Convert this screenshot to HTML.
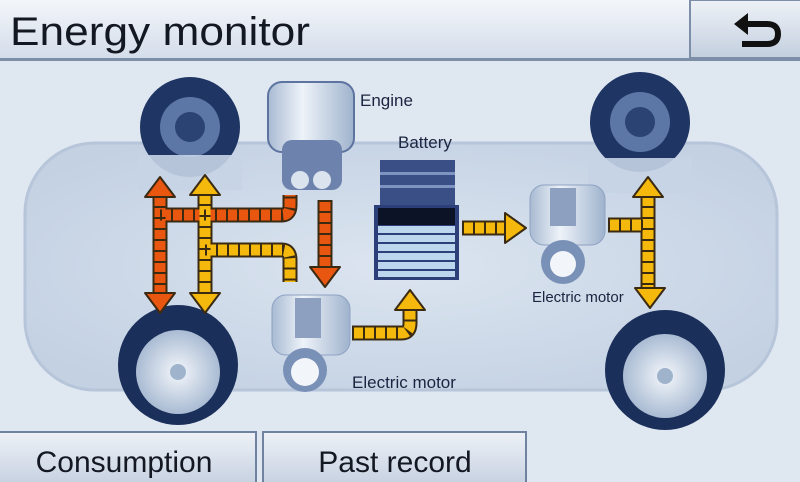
<!DOCTYPE html>
<html><head><style>
html,body{margin:0;padding:0;width:800px;height:482px;overflow:hidden;background:#dfe7f1;}
svg{display:block;font-family:"Liberation Sans",sans-serif;}
</style></head><body>
<svg width="800" height="482" viewBox="0 0 800 482" xmlns="http://www.w3.org/2000/svg">
<defs>
<linearGradient id="hdr" x1="0" y1="0" x2="0" y2="1"><stop offset="0" stop-color="#f3f6fa"/><stop offset="1" stop-color="#d3dcea"/></linearGradient>
<linearGradient id="btn" x1="0" y1="0" x2="0" y2="1"><stop offset="0" stop-color="#eef2f7"/><stop offset="1" stop-color="#c3cfdf"/></linearGradient>
<radialGradient id="car" cx="0.5" cy="0.5" r="0.6"><stop offset="0" stop-color="#dce5f0"/><stop offset="1" stop-color="#c3d1e3"/></radialGradient>
<radialGradient id="rim" cx="0.5" cy="0.5" r="0.5"><stop offset="0" stop-color="#f4f7fb"/><stop offset="1" stop-color="#a9bbd3"/></radialGradient>
<linearGradient id="mot" x1="0" y1="0" x2="1" y2="0"><stop offset="0" stop-color="#a8bad2"/><stop offset="0.4" stop-color="#eef3f9"/><stop offset="1" stop-color="#9fb3cd"/></linearGradient>
</defs>
<rect width="800" height="482" fill="#dfe7f1"/>
<rect x="0" y="0" width="800" height="60" fill="url(#hdr)"/>
<rect x="0" y="58" width="800" height="3" fill="#7d8ea8"/>
<text x="10" y="45" font-size="40" fill="#141822" textLength="300" lengthAdjust="spacingAndGlyphs">Energy monitor</text>
<rect x="690" y="0" width="112" height="58" fill="url(#btn)" stroke="#7d8ea8" stroke-width="2"/>
<path d="M745 24 H767 Q778 24 778 34 Q778 44 767 44 H742" fill="none" stroke="#111" stroke-width="6"/>
<polygon points="734,24 748,13 748,35" fill="#111"/>
<rect x="25" y="143" width="752" height="247" rx="70" fill="url(#car)" stroke="#b6c5d9" stroke-width="3"/>
<g>
<circle cx="190" cy="127" r="50" fill="#1f3563"/><circle cx="190" cy="127" r="30" fill="#5c77a5"/><circle cx="190" cy="127" r="15" fill="#2a4372"/>
<circle cx="640" cy="122" r="50" fill="#1f3563"/><circle cx="640" cy="122" r="30" fill="#5c77a5"/><circle cx="640" cy="122" r="15" fill="#2a4372"/>
<rect x="138" y="155" width="104" height="35" fill="#c7d4e5" opacity="0.9"/>
<rect x="588" y="158" width="104" height="35" fill="#c7d4e5" opacity="0.9"/>
<circle cx="178" cy="365" r="60" fill="#1b2f5b"/><circle cx="178" cy="372" r="42" fill="url(#rim)"/><circle cx="178" cy="372" r="8" fill="#9fb3cd"/>
<circle cx="665" cy="370" r="60" fill="#1b2f5b"/><circle cx="665" cy="376" r="42" fill="url(#rim)"/><circle cx="665" cy="376" r="8" fill="#9fb3cd"/>
</g>
<rect x="268" y="82" width="86" height="70" rx="14" fill="url(#mot)" stroke="#5d73a0" stroke-width="2"/>
<rect x="282" y="140" width="60" height="50" rx="10" fill="#6d83ad"/>
<circle cx="300" cy="180" r="9" fill="#dbe3ee"/><circle cx="322" cy="180" r="9" fill="#dbe3ee"/>
<text x="360" y="106" font-size="17" fill="#1b2440">Engine</text>
<text x="398" y="148" font-size="17" fill="#1b2440">Battery</text>
<rect x="380" y="160" width="75" height="45" fill="#3a4f86"/>
<rect x="380" y="172" width="75" height="3" fill="#7e93c2"/><rect x="380" y="185" width="75" height="3" fill="#7e93c2"/>
<rect x="374" y="205" width="85" height="75" fill="#2c3f78"/>
<rect x="378" y="208" width="77" height="17" fill="#0d1326"/>
<g fill="#bcd6ee"><rect x="378" y="226" width="77" height="7"/><rect x="378" y="235" width="77" height="7"/><rect x="378" y="244" width="77" height="7"/><rect x="378" y="253" width="77" height="7"/><rect x="378" y="262" width="77" height="7"/><rect x="378" y="271" width="77" height="6"/></g>
<rect x="272" y="295" width="78" height="60" rx="14" fill="url(#mot)" stroke="#8ea2c2"/>
<rect x="295" y="298" width="26" height="40" fill="#8ea0bf"/>
<circle cx="305" cy="370" r="22" fill="#7990b7"/><circle cx="305" cy="372" r="14" fill="#f2f5fa"/>
<text x="352" y="388" font-size="17" fill="#1b2440">Electric motor</text>
<rect x="530" y="185" width="75" height="60" rx="14" fill="url(#mot)" stroke="#8ea2c2"/>
<rect x="550" y="188" width="26" height="38" fill="#8ea0bf"/>
<circle cx="563" cy="262" r="22" fill="#7990b7"/><circle cx="563" cy="264" r="13" fill="#f2f5fa"/>
<text x="532" y="302" font-size="15" fill="#1b2440">Electric motor</text>
<g fill="none" stroke-linejoin="round" stroke-linecap="butt">
 <g stroke="#3b2a12" stroke-width="15">
  <path d="M160 195 V295"/><path d="M160 215 H282 Q290 215 290 205 V195"/><path d="M325 200 V270"/>
  <path d="M205 193 V295"/><path d="M205 250 H282 Q290 250 290 260 V282"/>
  <path d="M462 228 H505"/><path d="M352 333 H402 Q410 333 410 323 V308"/>
  <path d="M648 195 V288"/><path d="M608 225 H648"/>
 </g>
 <g stroke="#e8560f" stroke-width="11"><path d="M160 195 V295"/><path d="M160 215 H282 Q290 215 290 205 V195"/><path d="M325 200 V270"/></g>
 <g stroke="#f4b90c" stroke-width="11"><path d="M205 193 V295"/><path d="M205 250 H282 Q290 250 290 260 V282"/><path d="M462 228 H505"/><path d="M352 333 H402 Q410 333 410 323 V308"/><path d="M648 195 V288"/><path d="M608 225 H648"/></g>
 <g stroke="#3b2a12" stroke-width="11" stroke-dasharray="2 9">
  <path d="M160 195 V295"/><path d="M160 215 H282 Q290 215 290 205 V195"/><path d="M325 200 V270"/>
  <path d="M205 193 V295"/><path d="M205 250 H282 Q290 250 290 260 V282"/>
  <path d="M462 228 H505"/><path d="M352 333 H402 Q410 333 410 323 V308"/>
  <path d="M648 195 V288"/><path d="M608 225 H648"/>
 </g>
</g>
<g stroke="#3b2a12" stroke-width="2" stroke-linejoin="round">
 <polygon points="160,177 145,197 175,197" fill="#e8560f"/>
 <polygon points="160,313 145,293 175,293" fill="#e8560f"/>
 <polygon points="325,287 310,267 340,267" fill="#e8560f"/>
 <polygon points="205,175 190,195 220,195" fill="#f4b90c"/>
 <polygon points="205,313 190,293 220,293" fill="#f4b90c"/>
 <polygon points="526,228 505,213 505,243" fill="#f4b90c"/>
 <polygon points="410,290 395,310 425,310" fill="#f4b90c"/>
 <polygon points="648,177 633,197 663,197" fill="#f4b90c"/>
 <polygon points="650,308 635,288 665,288" fill="#f4b90c"/>
</g>
<rect x="-2" y="432" width="258" height="56" fill="url(#btn)" stroke="#6f82a0" stroke-width="2"/>
<rect x="263" y="432" width="263" height="56" fill="url(#btn)" stroke="#6f82a0" stroke-width="2"/>
<text x="124" y="472" font-size="30" fill="#141822" text-anchor="middle">Consumption</text>
<text x="395" y="472" font-size="30" fill="#141822" text-anchor="middle">Past record</text>
</svg>
</body></html>
